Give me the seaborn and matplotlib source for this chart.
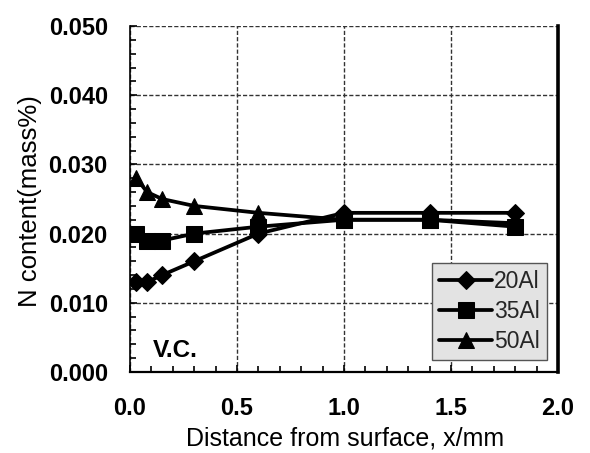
import matplotlib
matplotlib.use("Agg")
import matplotlib.pyplot as plt
from matplotlib.ticker import MultipleLocator, FormatStrFormatter
import seaborn as sns
import pandas as pd

# Sampling depths below the surface (mm)
depth_mm = [0.03, 0.08, 0.15, 0.30, 0.60, 1.00, 1.40, 1.80]

# Nitrogen content (mass%) for each alloy
n_20al = [0.013, 0.013, 0.014, 0.016, 0.020, 0.023, 0.023, 0.023]
n_35al = [0.020, 0.019, 0.019, 0.020, 0.021, 0.022, 0.022, 0.021]
n_50al = [0.028, 0.026, 0.025, 0.024, 0.023, 0.022, 0.022, 0.0215]

series_names = ["20Al", "35Al", "50Al"]
series_values = [n_20al, n_35al, n_50al]
series_markers = ["D", "s", "^"]
marker_sizes = [9, 11, 12]

sns.set_theme(style="white")
plt.rcParams["font.family"] = ["Liberation Sans", "DejaVu Sans"]

fig = plt.figure(figsize=(5.9, 4.53), dpi=100)
ax = fig.add_axes([130 / 590, 1 - 372 / 453, 428 / 590, 346 / 453])

for name, vals, mk, ms in zip(series_names, series_values, series_markers, marker_sizes):
    df = pd.DataFrame({"depth": depth_mm, "N": vals})
    sns.lineplot(data=df, x="depth", y="N", ax=ax, color="black",
                 marker=mk, markersize=ms, markeredgecolor="black",
                 markerfacecolor="black", linewidth=2.7, label=name,
                 legend=False)

ax.set_xlim(0, 2.0)
ax.set_ylim(0, 0.05)
ax.xaxis.set_major_locator(MultipleLocator(0.5))
ax.xaxis.set_minor_locator(MultipleLocator(0.1))
ax.yaxis.set_major_locator(MultipleLocator(0.01))
ax.yaxis.set_minor_locator(MultipleLocator(0.002))
ax.xaxis.set_major_formatter(FormatStrFormatter("%.1f"))
ax.yaxis.set_major_formatter(FormatStrFormatter("%.3f"))

ax.grid(True, which="major", color="#333333", linestyle=(0, (3, 1.5)),
        linewidth=1.0)
ax.set_axisbelow(True)

ax.tick_params(axis="both", which="both", direction="in", top=False,
               right=False, left=True, bottom=True, colors="black",
               width=1.2)
ax.tick_params(axis="both", which="major", length=5, labelsize=17)
ax.tick_params(axis="both", which="minor", length=4.5)
ax.tick_params(axis="x", which="major", pad=18)
ax.tick_params(axis="y", which="major", pad=16)
for lbl in ax.get_xticklabels() + ax.get_yticklabels():
    lbl.set_fontweight("bold")

ax.spines["top"].set_visible(False)
ax.spines["left"].set_linewidth(1.2)
ax.spines["bottom"].set_linewidth(1.6)
ax.spines["right"].set_linewidth(2.6)
for s in ("left", "bottom", "right"):
    ax.spines[s].set_color("black")

ax.set_xlabel("Distance from surface, x/mm", fontsize=18, color="black")
ax.set_ylabel("N content(mass%)", fontsize=18.5, color="black")
ax.xaxis.label.set_verticalalignment("bottom")
ax.xaxis.set_label_coords(0.502, -0.228)
ax.yaxis.set_label_coords(-0.205, 0.494)

ax.text(0.107, 0.0022, "V.C.", fontsize=17.5, fontweight="bold", color="black")

handles, labels = ax.get_legend_handles_labels()
leg = ax.legend(handles, labels, loc="lower right",
                bbox_to_anchor=(0.974, 0.035), borderaxespad=0,
                fontsize=16.5, handlelength=2.3, handletextpad=0.1,
                labelspacing=0.3, borderpad=0.3, fancybox=False,
                frameon=True, framealpha=1)
leg.get_frame().set_facecolor("#e3e3e3")
leg.get_frame().set_edgecolor("#555555")
leg.get_frame().set_linewidth(1.0)

fig.savefig("out.png", dpi=100, facecolor="white")
